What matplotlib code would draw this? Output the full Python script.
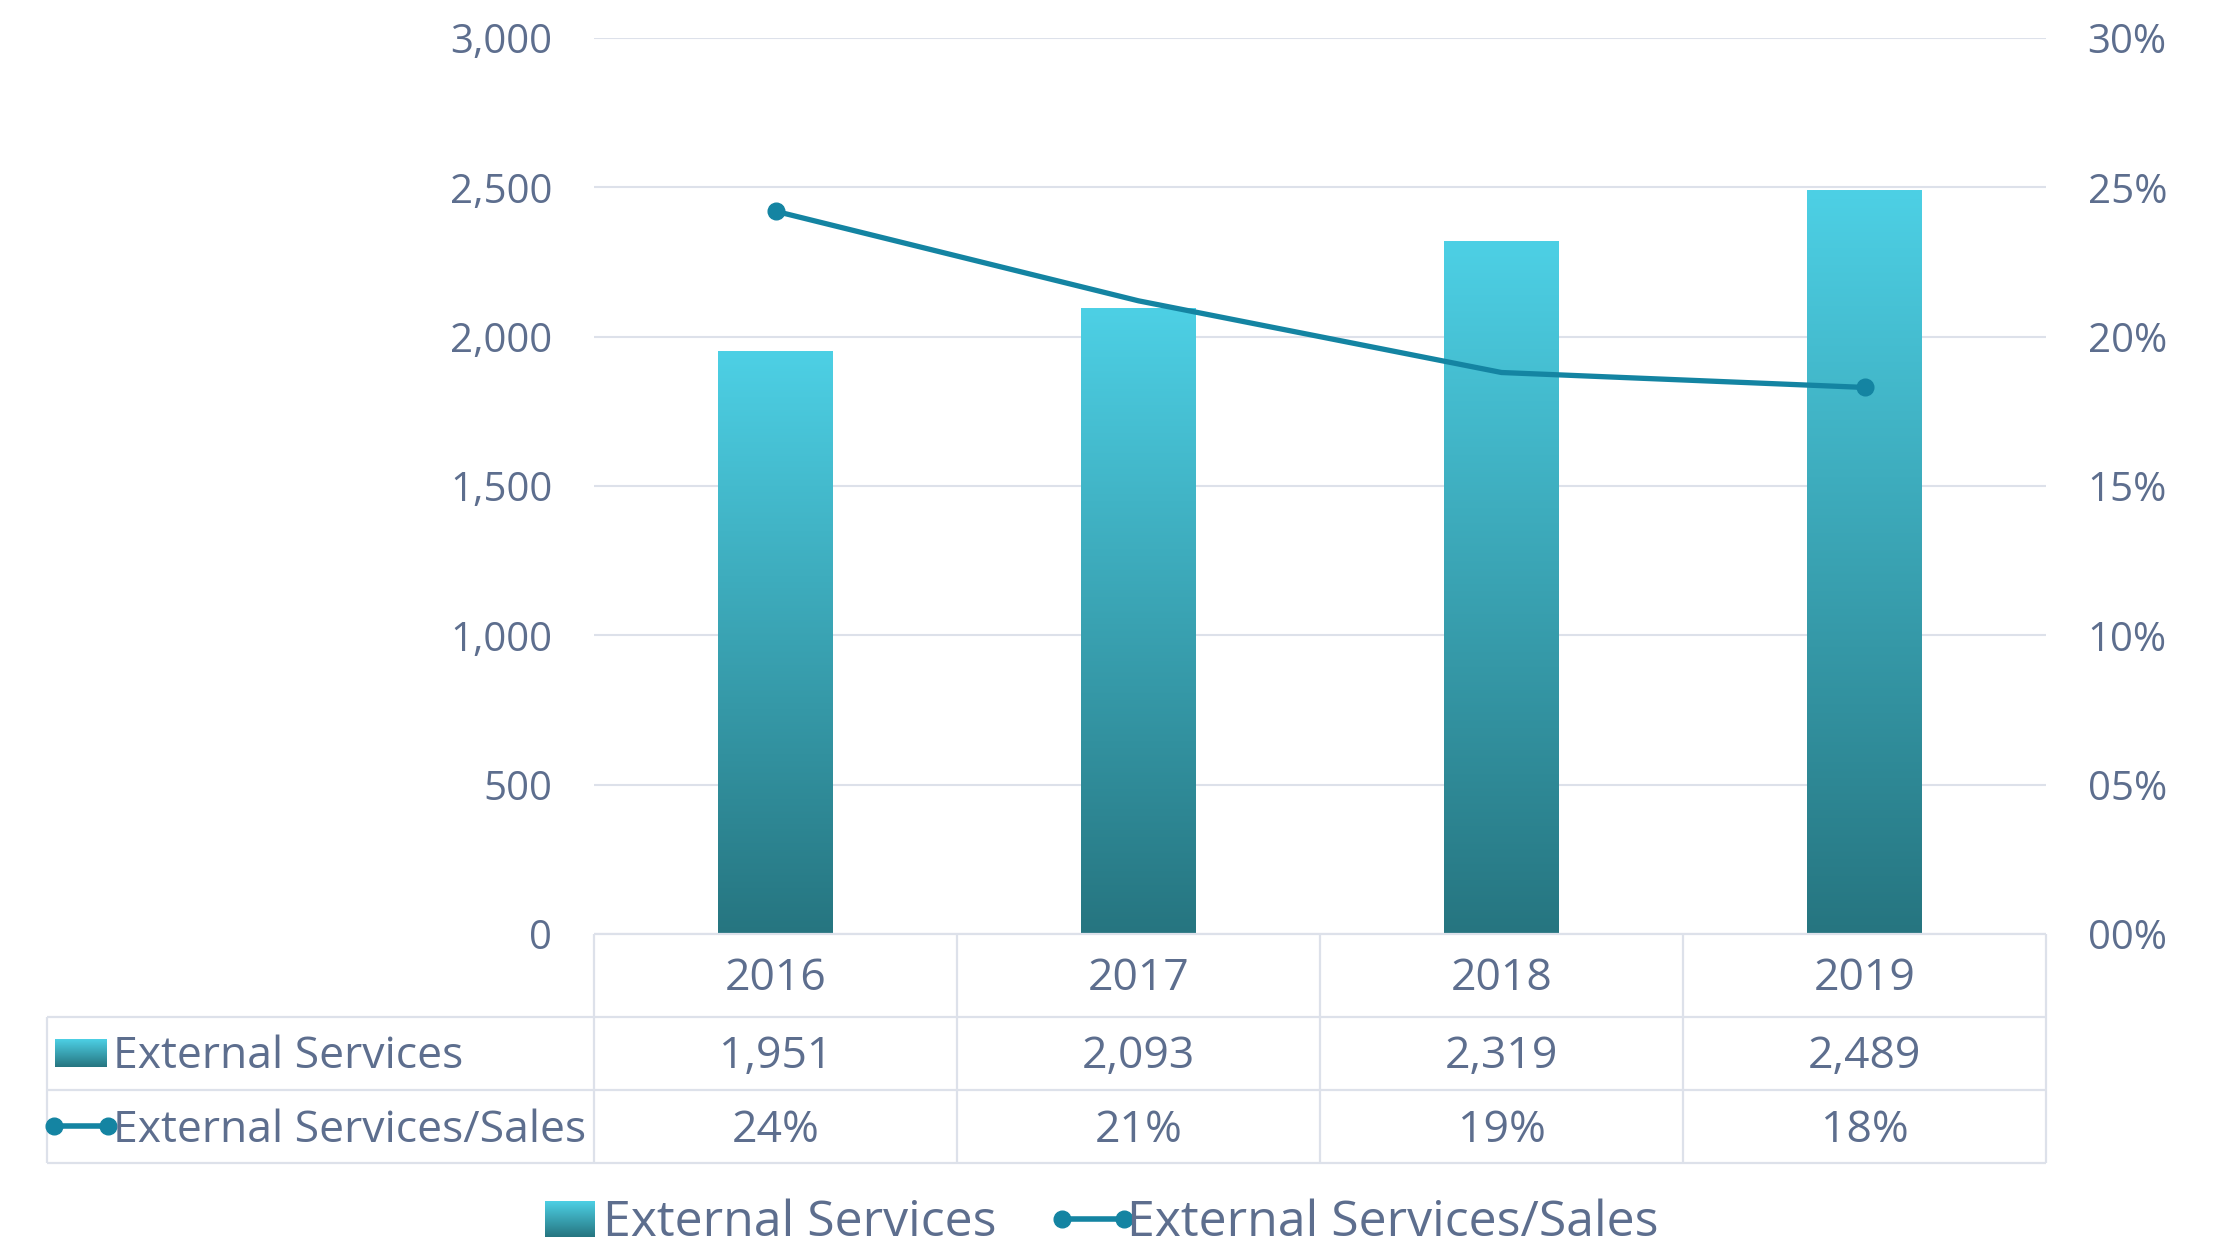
import matplotlib.pyplot as plt
import numpy as np
from matplotlib.colors import LinearSegmentedColormap
from matplotlib.lines import Line2D
from matplotlib.ticker import FuncFormatter

plt.rcParams['font.family'] = ['Open Sans', 'DejaVu Sans']

# dados
years = ['2016', '2017', '2018', '2019']
external_services = [1951, 2093, 2319, 2489]
ratio_pct = [24.2, 21.2, 18.8, 18.3]
series_names = ['External Services', 'External Services/Sales']

TXT = '#5d6e8e'
GRID = '#dde1ea'
LINE = '#1484a2'
cmap = LinearSegmentedColormap.from_list('bar', ['#267580', '#4dd0e5'])

W, H = 2229, 1244
fig = plt.figure(figsize=(W / 100, H / 100), dpi=100)
AX_L, AX_R, AX_T, AX_B = 594, 2046, 38, 934
ax = fig.add_axes([AX_L / W, 1 - AX_B / H, (AX_R - AX_L) / W, (AX_B - AX_T) / H])
ax2 = ax.twinx()

x = np.arange(len(years))
bw = 0.315

# barras com gradiente
grad = np.linspace(0, 1, 256).reshape(-1, 1)
for xi, v in zip(x, external_services):
    ax.imshow(grad, cmap=cmap, origin='lower', aspect='auto',
              extent=(xi - bw / 2, xi + bw / 2, 0, v), zorder=2)
ax.set_xlim(-0.5, len(years) - 0.5)
ax.set_ylim(0, 3000)
ax2.set_ylim(0, 30)

# linha
ax2.plot(x, ratio_pct, color=LINE, lw=3.8, zorder=3)
ax2.plot([x[0], x[-1]], [ratio_pct[0], ratio_pct[-1]], 'o', color=LINE, ms=12, zorder=4)

ax.set_yticks(np.arange(0, 3001, 500))
ax.yaxis.set_major_formatter(FuncFormatter(lambda v, p: f'{int(v):,}'))
ax2.set_yticks(np.arange(0, 31, 5))
ax2.yaxis.set_major_formatter(FuncFormatter(lambda v, p: f'{int(v):02d}%'))
ax.grid(axis='y', color=GRID, lw=1.5, zorder=0)
ax.set_axisbelow(True)
ax.set_xticks([])
for a in (ax, ax2):
    for s in a.spines.values():
        s.set_visible(False)
    a.tick_params(axis='y', length=0, labelsize=29, labelcolor=TXT, pad=30)

# tabela de dados
def ay(px):
    return (AX_B - px) / (AX_B - AX_T)

def fx(px):
    return px / W

def fy(px):
    return 1 - px / H

tr = ax.get_xaxis_transform()
rows = [934, 1016.5, 1090, 1162.5]
tfs = 32
dy = 4
for i, yr in enumerate(years):
    ax.text(x[i], ay((rows[0] + rows[1]) / 2 + dy), yr, transform=tr, ha='center', va='center',
            fontsize=tfs, color=TXT, clip_on=False)
    ax.text(x[i], ay((rows[1] + rows[2]) / 2 + dy), f'{external_services[i]:,}', transform=tr,
            ha='center', va='center', fontsize=tfs, color=TXT, clip_on=False)
    ax.text(x[i], ay((rows[2] + rows[3]) / 2 + dy), f'{round(ratio_pct[i])}%', transform=tr,
            ha='center', va='center', fontsize=tfs, color=TXT, clip_on=False)

lkw = dict(color=GRID, lw=1.6, solid_capstyle='butt')
fig.add_artist(Line2D([fx(AX_L), fx(AX_R)], [fy(rows[0])] * 2, **lkw))
for r in rows[1:]:
    fig.add_artist(Line2D([fx(47), fx(AX_R)], [fy(r)] * 2, **lkw))
fig.add_artist(Line2D([fx(47), fx(47)], [fy(rows[1]), fy(rows[3])], **lkw))
for b in np.arange(-0.5, len(years)):
    ax.plot([b, b], [ay(rows[0]), ay(rows[3])], transform=tr, clip_on=False, **lkw)

# rótulos da tabela com chaves
def grad_key(x0, y0, w, h):
    k = fig.add_axes([fx(x0), fy(y0 + h), w / W, h / H])
    k.imshow(grad, cmap=cmap, origin='lower', aspect='auto')
    k.axis('off')

def line_key(x0, x1, yc):
    fig.add_artist(Line2D([fx(x0), fx(x1)], [fy(yc)] * 2, color=LINE, lw=4,
                          marker='o', ms=12, markevery=[0, 1]))

yc1 = (rows[1] + rows[2]) / 2
yc2 = (rows[2] + rows[3]) / 2
grad_key(55, yc1 - 14, 52, 28)
fig.text(fx(113), fy(yc1 + dy), series_names[0], ha='left', va='center', fontsize=tfs, color=TXT)
line_key(54, 108, yc2)
fig.text(fx(113), fy(yc2 + dy), series_names[1], ha='left', va='center', fontsize=tfs, color=TXT)

# legenda
lg_y = 1219
lfs = 36
grad_key(545, lg_y - 18, 50, 36)
fig.text(fx(603), fy(lg_y + 4), series_names[0], ha='left', va='center', fontsize=lfs, color=TXT)
line_key(1062, 1124, lg_y)
fig.text(fx(1127), fy(lg_y + 4), series_names[1], ha='left', va='center', fontsize=lfs, color=TXT)

fig.savefig('out.png', dpi=100)
